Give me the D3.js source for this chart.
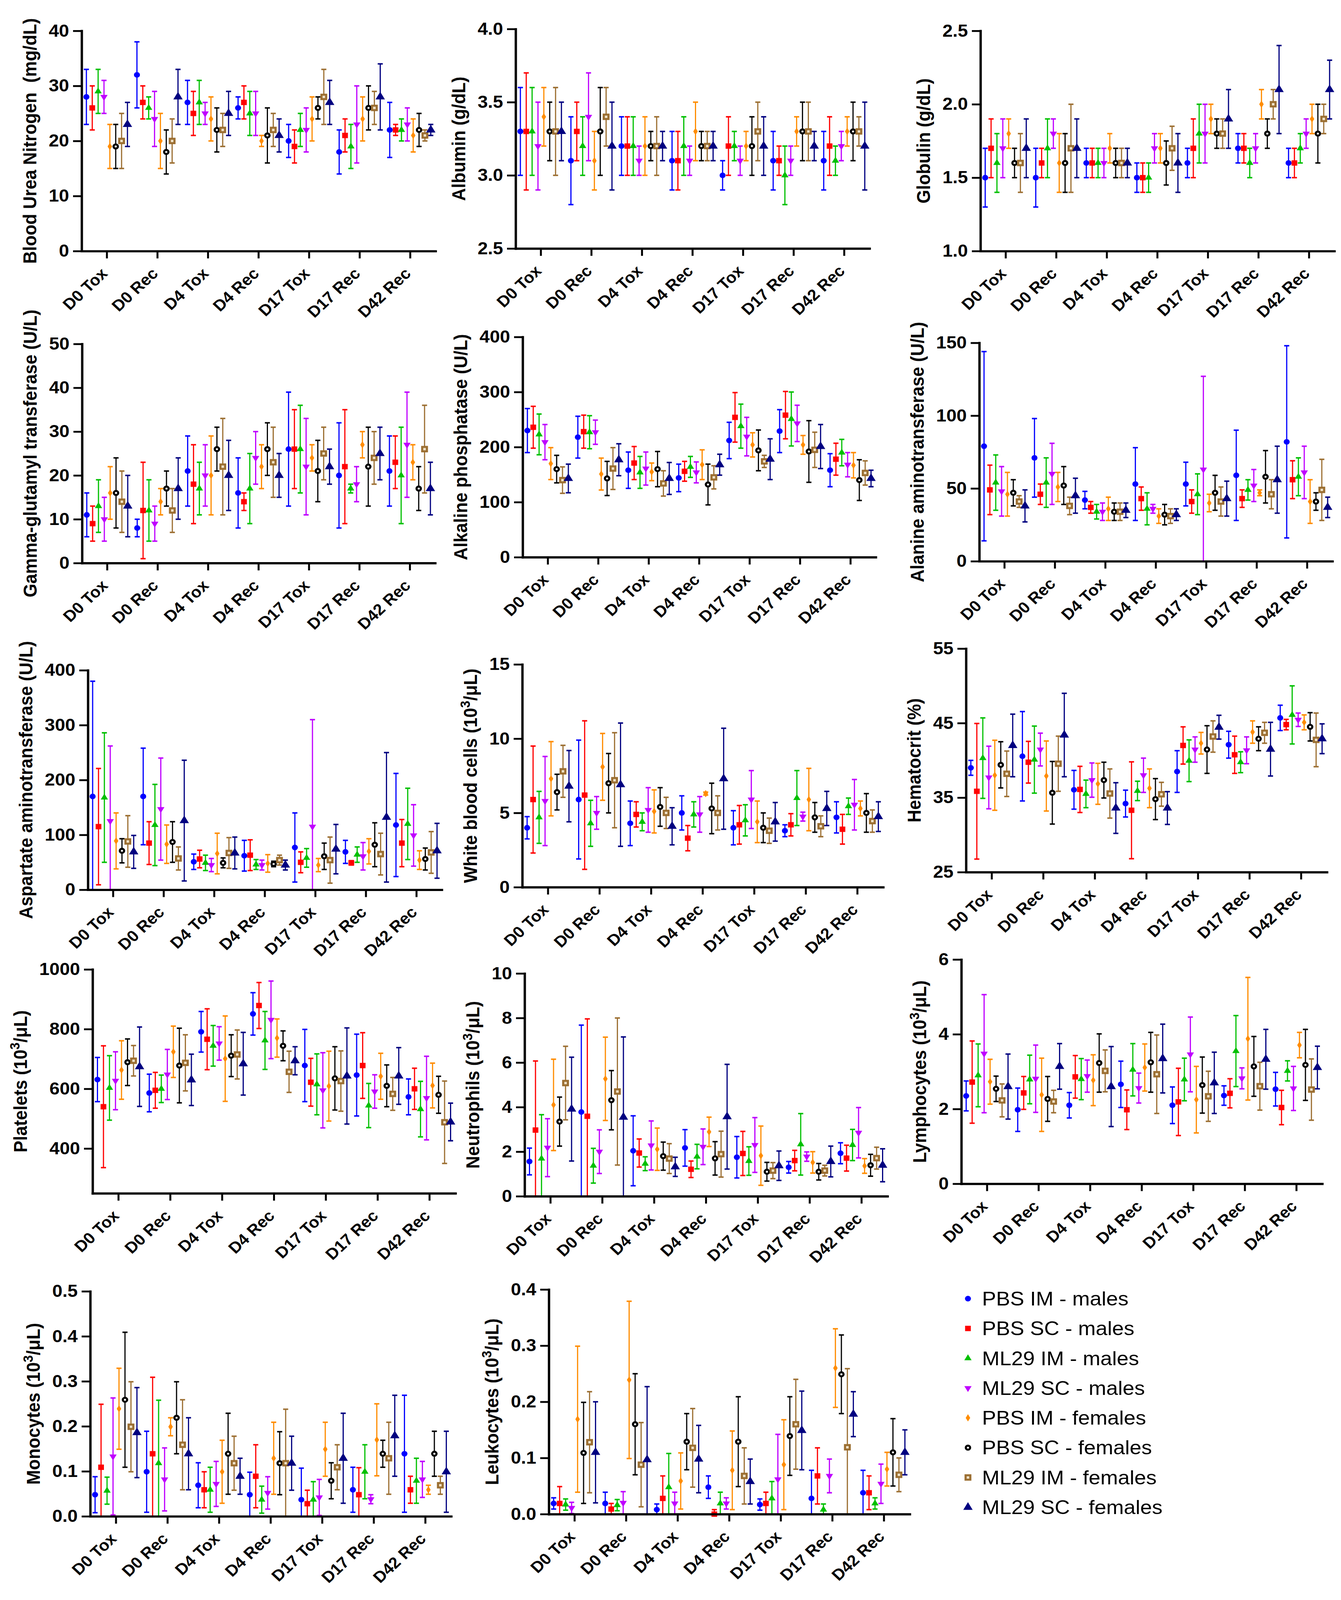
<!DOCTYPE html>
<html>
<head>
<meta charset="utf-8">
<script src="https://cdn.jsdelivr.net/npm/d3@7"></script>
<style>
  html, body { margin: 0; padding: 0; height: 100%; overflow: hidden; background: #fff; }
  svg { display: block; width: 100vw; height: 100vh; }
  text { font-family: "Liberation Sans", Arial, sans-serif; }
</style>
</head>
<body>
<script>
// categories and groups
var timePoints = ["D0 Tox", "D0 Rec", "D4 Tox", "D4 Rec", "D17 Tox", "D17 Rec", "D42 Rec"];
var groups = ["PBS IM - males", "PBS SC - males", "ML29 IM - males", "ML29 SC - males",
              "PBS IM - females", "PBS SC - females", "ML29 IM - females", "ML29 SC - females"];
var groupColors = ["#0000ff", "#ff0000", "#00c000", "#bf00ff", "#ff8c00", "#000000", "#9c6f32", "#000080"];

// each row = one time point, columns follow "groups"
var bunMean = [
  [28, 26, 29, 28, 19, 19, 20, 23],
  [32, 27, 26, 24, 20, 18, 20, 28],
  [27, 25, 27, 25, 24, 22, 22, 25],
  [26, 27, 25, 25, 20, 21, 22, 21],
  [20, 19, 22, 22, 24, 26, 28, 27],
  [18, 21, 19, 23, 24, 26, 26, 28],
  [22, 22, 22, 23, 21, 22, 21, 22]];
var bunSD = [
  [5, 4, 4, 3, 4, 4, 5, 4],
  [6, 3, 2, 5, 5, 4, 4, 5],
  [4, 4, 4, 2, 4, 4, 3, 4],
  [2, 3, 4, 4, 1, 5, 3, 3],
  [3, 3, 3, 4, 4, 2, 5, 4],
  [4, 3, 4, 7, 4, 4, 3, 6],
  [5, 1, 2, 3, 3, 3, 1, 1]];

var albMean = [
  [3.3, 3.3, 3.3, 3.2, 3.4, 3.3, 3.3, 3.3],
  [3.1, 3.3, 3.2, 3.4, 3.1, 3.3, 3.4, 3.2],
  [3.2, 3.2, 3.2, 3.1, 3.2, 3.2, 3.2, 3.2],
  [3.1, 3.1, 3.2, 3.1, 3.3, 3.2, 3.2, 3.2],
  [3.0, 3.2, 3.2, 3.1, 3.2, 3.2, 3.3, 3.2],
  [3.1, 3.1, 3.0, 3.1, 3.3, 3.3, 3.3, 3.2],
  [3.1, 3.2, 3.1, 3.2, 3.3, 3.3, 3.3, 3.2]];
var albSD = [
  [0.3, 0.4, 0.3, 0.3, 0.2, 0.2, 0.3, 0.2],
  [0.3, 0.2, 0.2, 0.3, 0.2, 0.3, 0.2, 0.3],
  [0.2, 0.2, 0.2, 0.1, 0.2, 0.1, 0.2, 0.1],
  [0.2, 0.2, 0.2, 0.1, 0.2, 0.1, 0.1, 0.1],
  [0.1, 0.2, 0.1, 0.1, 0.1, 0.2, 0.2, 0.2],
  [0.2, 0.1, 0.2, 0.1, 0.1, 0.2, 0.2, 0.1],
  [0.2, 0.2, 0.1, 0.1, 0.1, 0.2, 0.1, 0.3]];

var globMean = [
  [1.5, 1.7, 1.6, 1.7, 1.8, 1.6, 1.6, 1.7],
  [1.5, 1.6, 1.7, 1.8, 1.6, 1.6, 1.7, 1.7],
  [1.6, 1.6, 1.6, 1.6, 1.7, 1.6, 1.6, 1.6],
  [1.5, 1.5, 1.5, 1.7, 1.7, 1.6, 1.7, 1.6],
  [1.6, 1.7, 1.8, 1.8, 1.9, 1.8, 1.8, 1.9],
  [1.7, 1.7, 1.6, 1.7, 2.0, 1.8, 2.0, 2.1],
  [1.6, 1.6, 1.7, 1.8, 1.9, 1.8, 1.9, 2.1]];
var globSD = [
  [0.2, 0.2, 0.2, 0.2, 0.1, 0.1, 0.2, 0.2],
  [0.2, 0.1, 0.2, 0.1, 0.2, 0.2, 0.3, 0.2],
  [0.1, 0.1, 0.1, 0.1, 0.1, 0.1, 0.1, 0.1],
  [0.1, 0.1, 0.1, 0.1, 0.1, 0.15, 0.15, 0.2],
  [0.1, 0.2, 0.2, 0.2, 0.1, 0.1, 0.1, 0.2],
  [0.1, 0.1, 0.1, 0.1, 0.1, 0.1, 0.1, 0.3],
  [0.1, 0.1, 0.1, 0.1, 0.1, 0.2, 0.1, 0.2]];

var ggtMean = [
  [11, 9, 13, 10, 16, 16, 14, 13],
  [8, 12, 12, 9, 14, 17, 12, 17],
  [21, 18, 17, 20, 20, 26, 22, 20],
  [16, 14, 17, 24, 22, 26, 23, 20],
  [26, 26, 26, 22, 24, 21, 25, 22],
  [20, 22, 17, 18, 27, 22, 24, 25],
  [21, 23, 20, 27, 23, 17, 26, 17]];
var ggtSD = [
  [5, 4, 6, 5, 6, 8, 7, 7],
  [2, 11, 7, 4, 3, 4, 5, 7],
  [8, 9, 6, 7, 9, 5, 11, 8],
  [8, 2, 8, 6, 5, 6, 8, 5],
  [13, 9, 10, 11, 3, 7, 6, 4],
  [12, 13, 1, 4, 3, 9, 6, 6],
  [8, 6, 11, 12, 4, 5, 10, 6]];

var alpMean = [
  [230, 236, 223, 209, 170, 160, 140, 143],
  [218, 228, 227, 227, 151, 143, 161, 177],
  [158, 171, 154, 161, 155, 160, 134, 143],
  [144, 156, 164, 154, 168, 132, 145, 168],
  [212, 254, 238, 219, 204, 194, 174, 178],
  [229, 258, 251, 243, 204, 192, 195, 201],
  [158, 178, 190, 168, 167, 140, 153, 143]];
var alpSD = [
  [40, 38, 37, 32, 29, 25, 24, 26],
  [38, 30, 30, 22, 29, 31, 38, 29],
  [33, 30, 29, 30, 16, 32, 23, 29],
  [25, 18, 19, 19, 27, 37, 21, 19],
  [33, 45, 40, 35, 22, 37, 11, 37],
  [39, 43, 49, 33, 17, 56, 32, 40],
  [30, 29, 24, 22, 23, 37, 22, 15]];

var altMean = [
  [79, 49, 54, 48, 46, 47, 41, 38],
  [71, 46, 54, 60, 51, 52, 38, 45],
  [42, 37, 34, 34, 36, 34, 34, 35],
  [53, 43, 36, 36, 31, 32, 31, 32],
  [53, 41, 46, 63, 40, 47, 41, 43],
  [59, 43, 49, 52, 47, 58, 46, 56],
  [82, 56, 58, 61, 41, 41, 49, 37]];
var altSD = [
  [65, 17, 19, 17, 15, 9, 4, 11],
  [27, 7, 17, 21, 10, 13, 6, 12],
  [6, 4, 5, 6, 8, 6, 6, 5],
  [25, 8, 11, 3, 5, 7, 5, 4],
  [15, 8, 14, 64, 6, 12, 10, 12],
  [31, 6, 7, 11, 2, 18, 10, 23],
  [66, 13, 13, 18, 15, 6, 21, 7]];

var astMean = [
  [170, 115, 168, 125, 89, 71, 88, 69],
  [170, 85, 118, 147, 83, 87, 57, 126],
  [51, 56, 49, 45, 66, 49, 67, 67],
  [62, 63, 46, 45, 48, 47, 54, 45],
  [77, 50, 58, 115, 45, 61, 54, 74],
  [69, 49, 64, 61, 70, 82, 65, 132],
  [118, 85, 120, 99, 54, 56, 68, 71]];
var astSD = [
  [210, 106, 118, 137, 51, 22, 47, 30],
  [88, 39, 74, 93, 35, 37, 21, 110],
  [14, 16, 14, 12, 37, 9, 28, 29],
  [28, 28, 9, 9, 16, 5, 9, 9],
  [63, 19, 17, 195, 12, 24, 42, 45],
  [21, 4, 14, 25, 23, 40, 38, 118],
  [94, 43, 65, 56, 17, 20, 38, 50]];

var wbcMean = [
  [4.0, 5.9, 4.7, 5.8, 7.3, 6.4, 7.8, 6.8],
  [5.9, 6.2, 4.3, 5.0, 8.1, 7.0, 7.2, 6.9],
  [4.3, 4.9, 4.4, 5.2, 5.1, 5.4, 5.0, 4.1],
  [5.0, 3.3, 4.9, 4.9, 6.3, 5.3, 5.0, 7.3],
  [4.0, 4.2, 4.5, 5.9, 4.4, 4.0, 3.8, 4.4],
  [3.8, 4.2, 6.0, 4.75, 5.9, 4.7, 4.1, 5.3],
  [4.7, 3.9, 5.45, 5.55, 5.3, 5.0, 4.45, 4.75]];
var wbcSD = [
  [0.75, 3.6, 1.75, 3.0, 2.5, 1.2, 1.75, 2.4],
  [4.0, 5.0, 1.55, 1.1, 2.25, 2.0, 3.2, 4.15],
  [1.5, 0.85, 0.6, 1.5, 1.45, 1.3, 1.05, 1.25],
  [1.15, 0.85, 0.85, 1.2, 0.1, 1.7, 1.15, 3.4],
  [1.15, 1.3, 1.05, 1.95, 1.4, 1.0, 0.85, 1.3],
  [0.4, 0.75, 1.85, 0.3, 2.1, 1.0, 0.7, 1.15],
  [1.05, 1.0, 0.55, 1.7, 0.5, 1.3, 0.75, 1.0]];

var hctMean = [
  [39.0, 35.85, 40.3, 37.7, 38.0, 39.4, 38.2, 42.0],
  [40.55, 39.75, 40.1, 41.45, 37.9, 35.65, 39.55, 43.4],
  [36.05, 36.1, 35.5, 37.35, 36.85, 37.35, 35.55, 33.6],
  [34.2, 33.3, 35.9, 38.0, 36.25, 34.8, 35.45, 33.6],
  [38.5, 42.0, 39.95, 41.45, 42.3, 41.45, 43.2, 44.45],
  [42.1, 40.75, 39.75, 41.35, 43.8, 42.9, 43.7, 41.5],
  [45.7, 44.8, 46.1, 45.45, 45.1, 44.5, 42.75, 42.9]];
var hctSD = [
  [1.0, 9.1, 5.4, 4.2, 4.7, 3.1, 3.05, 4.2],
  [6.0, 2.8, 4.5, 2.2, 4.7, 4.2, 3.7, 5.6],
  [2.6, 3.1, 1.85, 2.3, 2.75, 2.4, 3.3, 3.4],
  [1.8, 6.5, 1.3, 2.3, 2.6, 2.75, 1.6, 2.2],
  [2.8, 2.5, 2.8, 1.7, 1.45, 3.2, 2.1, 1.6],
  [1.8, 2.5, 1.4, 1.8, 1.5, 1.6, 1.4, 3.6],
  [1.7, 0.7, 3.9, 0.9, 1.0, 1.9, 3.6, 2.0]];

var pltMean = [
  [631, 540, 603, 627, 663, 689, 694, 674],
  [586, 595, 600, 648, 724, 678, 687, 630],
  [791, 766, 744, 752, 701, 711, 715, 684],
  [851, 879, 762, 831, 770, 744, 657, 694],
  [678, 622, 615, 595, 609, 635, 626, 643],
  [646, 678, 544, 591, 642, 610, 583, 643],
  [573, 600, 532, 569, 611, 580, 488, 489]];
var pltSD = [
  [74, 204, 108, 97, 98, 78, 51, 133],
  [63, 60, 46, 84, 86, 125, 94, 86],
  [68, 102, 68, 56, 143, 70, 82, 105],
  [71, 77, 97, 130, 64, 50, 69, 47],
  [121, 80, 102, 126, 117, 106, 101, 161],
  [137, 110, 74, 56, 77, 70, 55, 95],
  [60, 69, 93, 140, 75, 62, 138, 63]];

var neuMean = [
  [1.56, 2.97, 1.69, 2.18, 4.1, 3.35, 5.08, 3.91],
  [3.78, 3.59, 1.37, 2.0, 5.27, 4.31, 4.7, 3.55],
  [2.04, 1.94, 1.46, 2.28, 2.11, 1.8, 1.69, 1.32],
  [2.17, 1.21, 1.78, 2.22, 2.89, 1.7, 1.89, 3.57],
  [1.75, 1.92, 1.58, 2.3, 1.82, 1.1, 1.15, 1.37],
  [1.3, 1.6, 2.33, 1.78, 1.52, 1.1, 1.15, 1.56],
  [1.93, 1.71, 2.3, 2.85, 1.36, 1.39, 1.71, 1.39]];
var neuSD = [
  [0.6, 3.1, 1.97, 1.3, 2.05, 1.1, 1.65, 2.33],
  [3.9, 4.37, 0.78, 0.98, 1.87, 1.33, 3.3, 3.6],
  [1.57, 0.63, 0.31, 1.1, 0.95, 0.63, 0.67, 0.43],
  [0.82, 0.37, 0.55, 0.8, 0.66, 0.75, 1.03, 2.35],
  [0.93, 0.99, 0.64, 1.23, 1.33, 0.42, 0.36, 0.66],
  [0.26, 0.46, 1.38, 0.21, 0.48, 0.37, 0.24, 0.69],
  [0.47, 0.58, 0.7, 1.13, 0.33, 0.49, 0.49, 0.74]];

var lymMean = [
  [2.35, 2.72, 2.9, 3.48, 2.73, 2.54, 2.23, 2.6],
  [1.98, 2.43, 2.79, 2.81, 2.38, 2.27, 2.2, 3.14],
  [2.1, 2.86, 2.8, 2.88, 2.77, 3.23, 3.02, 2.6],
  [2.66, 1.98, 3.05, 2.56, 3.11, 3.25, 2.93, 3.35],
  [2.1, 2.19, 2.79, 3.46, 2.25, 2.64, 2.34, 2.7],
  [2.36, 2.42, 3.55, 2.82, 3.88, 3.14, 2.61, 3.33],
  [2.53, 2.04, 3.02, 2.55, 3.71, 3.18, 2.52, 3.11]];
var lymSD = [
  [0.4, 1.1, 0.84, 1.58, 0.6, 0.34, 0.44, 0.87],
  [0.58, 0.44, 0.65, 0.9, 0.98, 0.6, 0.3, 0.61],
  [0.34, 0.57, 0.55, 0.43, 0.68, 0.78, 0.56, 1.07],
  [0.62, 0.53, 0.7, 0.4, 0.63, 0.8, 1.05, 0.92],
  [0.49, 0.9, 0.57, 1.0, 0.89, 0.75, 0.67, 0.82],
  [0.26, 0.39, 0.95, 0.28, 1.64, 0.8, 0.64, 0.8],
  [0.45, 0.46, 0.27, 0.59, 0.34, 0.95, 0.82, 0.57]];

var monoMean = [
  [0.048, 0.109, 0.057, 0.133, 0.239, 0.259, 0.199, 0.186],
  [0.099, 0.139, 0.118, 0.082, 0.199, 0.219, 0.159, 0.139],
  [0.069, 0.059, 0.059, 0.072, 0.099, 0.139, 0.118, 0.089],
  [0.048, 0.089, 0.037, 0.052, 0.129, 0.118, 0.118, 0.118],
  [0.037, 0.028, 0.037, 0.042, 0.149, 0.079, 0.109, 0.129],
  [0.059, 0.048, 0.099, 0.038, 0.17, 0.139, 0.129, 0.179],
  [0.139, 0.059, 0.079, 0.082, 0.059, 0.139, 0.069, 0.099]];
var monoSD = [
  [0.04, 0.14, 0.03, 0.13, 0.09, 0.15, 0.1, 0.1],
  [0.09, 0.17, 0.14, 0.07, 0.02, 0.08, 0.1, 0.08],
  [0.05, 0.04, 0.05, 0.05, 0.07, 0.09, 0.06, 0.04],
  [0.05, 0.07, 0.03, 0.036, 0.08, 0.07, 0.12, 0.06],
  [0.07, 0.03, 0.04, 0.04, 0.06, 0.04, 0.05, 0.1],
  [0.05, 0.06, 0.06, 0.01, 0.08, 0.03, 0.08, 0.09],
  [0.13, 0.03, 0.05, 0.04, 0.01, 0.05, 0.02, 0.09]];

var leukMean = [
  [0.019, 0.019, 0.017, 0.011, 0.169, 0.109, 0.128, 0.11],
  [0.019, 0.009, 0.016, 0.02, 0.239, 0.16, 0.088, 0.097],
  [0.008, 0.028, 0.048, 0.019, 0.059, 0.129, 0.118, 0.098],
  [0.048, 0.0, 0.019, 0.019, 0.078, 0.129, 0.068, 0.058],
  [0.017, 0.019, 0.028, 0.062, 0.088, 0.139, 0.16, 0.149],
  [0.028, 0.068, 0.008, 0.068, 0.26, 0.249, 0.119, 0.178],
  [0.038, 0.038, 0.019, 0.054, 0.08, 0.11, 0.07, 0.11]];
var leukSD = [
  [0.01, 0.03, 0.01, 0.01, 0.13, 0.09, 0.09, 0.09],
  [0.02, 0.01, 0.01, 0.02, 0.14, 0.09, 0.075, 0.13],
  [0.01, 0.04, 0.06, 0.02, 0.05, 0.05, 0.07, 0.06],
  [0.02, 0.008, 0.02, 0.01, 0.07, 0.08, 0.05, 0.04],
  [0.01, 0.02, 0.03, 0.08, 0.08, 0.07, 0.08, 0.07],
  [0.05, 0.05, 0.01, 0.03, 0.07, 0.07, 0.14, 0.04],
  [0.04, 0.03, 0.01, 0.035, 0.03, 0.06, 0.03, 0.04]];

// y axis tick labels per panel
var bunTicks = [0, 10, 20, 30, 40];
var albTicks = [2.5, 3.0, 3.5, 4.0];
var globTicks = [1.0, 1.5, 2.0, 2.5];
var ggtTicks = [0, 10, 20, 30, 40, 50];
var alpTicks = [0, 100, 200, 300, 400];
var altTicks = [0, 50, 100, 150];
var astTicks = [0, 100, 200, 300, 400];
var wbcTicks = [0, 5, 10, 15];
var hctTicks = [25, 35, 45, 55];
var pltTicks = [400, 600, 800, 1000];
var neuTicks = [0, 2, 4, 6, 8, 10];
var lymTicks = [0, 2, 4, 6];
var monoTicks = [0.0, 0.1, 0.2, 0.3, 0.4, 0.5];
var leukTicks = [0.0, 0.1, 0.2, 0.3, 0.4];

var W = 3433, H = 4359;
// drawn in a fixed 3433x4359 coordinate space, stretched to whatever the viewport is
var svg = d3.select("body").append("svg")
    .attr("viewBox", "0 0 " + W + " " + H)
    .attr("preserveAspectRatio", "none");

// panel frames: left, top, width, height of each plot area
var panels = [
  {title: "Blood Urea Nitrogen  (mg/dL)", mean: bunMean, sd: bunSD, ticks: bunTicks, domain: [0, 40], fmt: "d", frame: [209, 84, 906, 600]},
  {title: "Albumin (g/dL)", mean: albMean, sd: albSD, ticks: albTicks, domain: [2.5, 4.0], fmt: ".1f", frame: [1320, 79, 906, 598]},
  {title: "Globulin (g/dL)", mean: globMean, sd: globSD, ticks: globTicks, domain: [1.0, 2.5], fmt: ".1f", frame: [2510, 84, 906, 600]},
  {title: "Gamma-glutamyl transferase (U/L)", mean: ggtMean, sd: ggtSD, ticks: ggtTicks, domain: [0, 50], fmt: "d", frame: [210, 937, 904, 597]},
  {title: "Alkaline phosphatase (U/L)", mean: alpMean, sd: alpSD, ticks: alpTicks, domain: [0, 400], fmt: "d", frame: [1338, 918, 904, 600]},
  {title: "Alanine aminotransferase (U/L)", mean: altMean, sd: altSD, ticks: altTicks, domain: [0, 150], fmt: "d", frame: [2507, 934, 904, 595]},
  {title: "Aspartate aminotransferase (U/L)", mean: astMean, sd: astSD, ticks: astTicks, domain: [0, 400], fmt: "d", frame: [225, 1826, 906, 598]},
  {title: "White blood cells (10^3/\u03bcL)", mean: wbcMean, sd: wbcSD, ticks: wbcTicks, domain: [0, 15], fmt: "d", frame: [1337, 1810, 924, 607]},
  {title: "Hematocrit (%)", mean: hctMean, sd: hctSD, ticks: hctTicks, domain: [25, 55], fmt: "d", frame: [2473, 1767, 924, 609]},
  {title: "Platelets (10^3/\u03bcL)", mean: pltMean, sd: pltSD, ticks: pltTicks, domain: [250, 1000], fmt: "d", frame: [237, 2641, 929, 610]},
  {title: "Neutrophils (10^3/\u03bcL)", mean: neuMean, sd: neuSD, ticks: neuTicks, domain: [0, 10], fmt: "d", frame: [1343, 2652, 929, 607]},
  {title: "Lymphocytes (10^3/\u03bcL)", mean: lymMean, sd: lymSD, ticks: lymTicks, domain: [0, 6], fmt: "d", frame: [2461, 2614, 924, 611]},
  {title: "Monocytes (10^3/\u03bcL)", mean: monoMean, sd: monoSD, ticks: monoTicks, domain: [0, 0.5], fmt: ".1f", frame: [231, 3518, 924, 613]},
  {title: "Leukocytes (10^3/\u03bcL)", mean: leukMean, sd: leukSD, ticks: leukTicks, domain: [0, 0.4], fmt: ".1f", frame: [1405, 3513, 924, 612]}
];

// marker for group k, drawn into selection sel (already translated)
function addMarker(sel, k) {
  var c = groupColors[k];
  if (k === 0) sel.append("path").attr("d", d3.symbol(d3.symbolCircle, 185)()).attr("fill", c);
  else if (k === 1) sel.append("path").attr("d", d3.symbol(d3.symbolSquare, 215)()).attr("fill", c);
  else if (k === 2) sel.append("path").attr("d", d3.symbol(d3.symbolTriangle, 150)()).attr("fill", c);
  else if (k === 3) sel.append("path").attr("d", d3.symbol(d3.symbolTriangle, 150)()).attr("transform", "rotate(180)").attr("fill", c);
  else if (k === 4) sel.append("path").attr("d", d3.symbol(d3.symbolDiamond, 115)()).attr("fill", c);
  else if (k === 5) sel.append("circle").attr("r", 5.5).attr("fill", "#fff").attr("stroke", c).attr("stroke-width", 5.5);
  else if (k === 6) sel.append("rect").attr("x", -6).attr("y", -6).attr("width", 12).attr("height", 12)
      .attr("fill", "#efe2c8").attr("stroke", c).attr("stroke-width", 5.5);
  else sel.append("path").attr("d", d3.symbol(d3.symbolTriangle, 250)()).attr("fill", c);
}

// title with optional ^superscript part
function setTitle(t, str) {
  var m = str.match(/^(.*)\^(\d)(.*)$/);
  if (!m) { t.text(str); return; }
  t.append("tspan").text(m[1]);
  t.append("tspan").attr("dy", "-0.42em").attr("font-size", "72%").text(m[2]);
  t.append("tspan").attr("dy", "0.3em").text(m[3]);
}

function drawPanel(p) {
  var f = p.frame;
  var g = svg.append("g").attr("transform", "translate(" + f[0] + "," + f[1] + ")");

  var x = d3.scaleBand().domain(timePoints).range([0, f[2]]);
  var y = d3.scaleLinear().domain(p.domain).range([f[3], 0]);
  var dodge = d3.scaleLinear().domain([0, groups.length - 1]).range([-0.406, 0.406]);
  var xPos = function(d) { return x(timePoints[d.t]) + x.bandwidth() * (0.5 + dodge(d.k)); };

  var pts = [];
  p.mean.forEach(function(row, t) {
    row.forEach(function(m, k) { pts.push({t: t, k: k, m: m, sd: p.sd[t][k]}); });
  });

  // error bars (SD), cut at the bottom of the axis
  var eb = g.append("g").selectAll("g").data(pts).enter().append("g")
      .attr("stroke", function(d) { return groupColors[d.k]; });
  eb.append("line")
      .attr("x1", xPos).attr("x2", xPos)
      .attr("y1", function(d) { return y(Math.max(p.domain[0], d.m - d.sd)); })
      .attr("y2", function(d) { return y(d.m + d.sd); })
      .attr("stroke-width", 3);
  eb.append("line")
      .attr("x1", function(d) { return xPos(d) - 6.5; }).attr("x2", function(d) { return xPos(d) + 6.5; })
      .attr("y1", function(d) { return y(d.m + d.sd); }).attr("y2", function(d) { return y(d.m + d.sd); })
      .attr("stroke-width", 4);
  eb.filter(function(d) { return d.m - d.sd > p.domain[0]; }).append("line")
      .attr("x1", function(d) { return xPos(d) - 6.5; }).attr("x2", function(d) { return xPos(d) + 6.5; })
      .attr("y1", function(d) { return y(d.m - d.sd); }).attr("y2", function(d) { return y(d.m - d.sd); })
      .attr("stroke-width", 4);

  // means
  g.append("g").selectAll("g").data(pts).enter().append("g")
      .attr("transform", function(d) { return "translate(" + xPos(d) + "," + y(d.m) + ")"; })
      .each(function(d) { addMarker(d3.select(this), d.k); });

  // axes
  var yAxis = g.append("g")
      .call(d3.axisLeft(y).tickValues(p.ticks).tickSize(22).tickSizeOuter(0).tickPadding(10).tickFormat(d3.format(p.fmt)));
  var xAxis = g.append("g").attr("transform", "translate(0," + f[3] + ")")
      .call(d3.axisBottom(x).tickSize(20).tickSizeOuter(0));

  [yAxis, xAxis].forEach(function(a) {
    a.select(".domain").attr("stroke-width", 6).attr("stroke-linecap", "square");
    a.selectAll(".tick line").attr("stroke-width", 5);
    a.selectAll("text").attr("font-weight", "bold").attr("fill", "#000");
  });
  yAxis.selectAll("text").attr("font-size", 47);
  xAxis.selectAll("text").attr("font-size", 43)
      .attr("x", 0).attr("y", 0).attr("dy", 0)
      .attr("text-anchor", "end")
      .attr("transform", "translate(4,64) rotate(-45)");

  // y title placed left of the tick labels
  var minX = d3.min(yAxis.selectAll("text").nodes(), function(n) { return n.getBBox().x; });
  var title = g.append("text")
      .attr("transform", "translate(" + (minX - 48) + "," + (f[3] / 2) + ") rotate(-90)")
      .attr("text-anchor", "middle")
      .attr("dominant-baseline", "central")
      .attr("font-size", 48)
      .attr("font-weight", "bold")
      .style("white-space", "pre");
  setTitle(title, p.title);
}

panels.forEach(drawPanel);

// legend
var legend = svg.append("g").attr("transform", "translate(2478,3538)");
var rows = legend.selectAll("g").data(groups).enter().append("g")
    .attr("transform", function(d, i) { return "translate(0," + (i * 81.2) + ")"; });
rows.each(function(d, i) { addMarker(d3.select(this), i); });
rows.append("text")
    .attr("x", 36)
    .attr("dominant-baseline", "central")
    .attr("font-size", 54)
    .text(function(d) { return d; });
</script>
</body>
</html>
